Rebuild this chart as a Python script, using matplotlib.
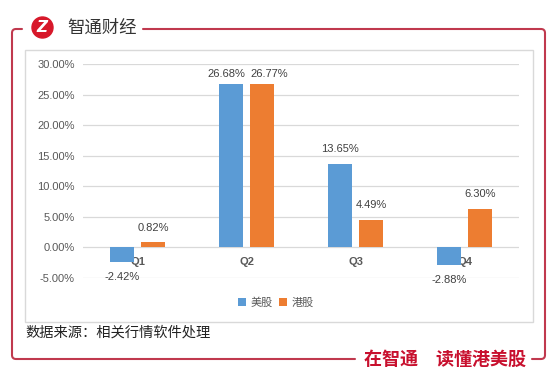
import numpy as np
import matplotlib
matplotlib.use("Agg")
import matplotlib.pyplot as plt
from matplotlib.path import Path
from matplotlib.patches import PathPatch, Circle, Rectangle
from matplotlib.ticker import FuncFormatter

# 数据
quarters = ["Q1", "Q2", "Q3", "Q4"]
us_stocks = [-2.42, 26.68, 13.65, -2.88]   # 美股
hk_stocks = [0.82, 26.77, 4.49, 6.30]      # 港股
series_names = ["美股", "港股"]

BLUE = "#5b9bd5"
ORANGE = "#ed7d31"
GRID = "#d9d9d9"
TXT = "#595959"
FRAME = "#c0394e"
CJK = ["Noto Sans CJK SC", "DejaVu Sans"]

plt.rcParams["font.family"] = ["Liberation Sans", "Noto Sans CJK SC"]

W, H = 559, 382
fig = plt.figure(figsize=(W / 100, H / 100), dpi=100)
fig.patch.set_facecolor("white")

# 背景层：像素坐标
bg = fig.add_axes([0, 0, 1, 1], zorder=0)
bg.set_xlim(0, W)
bg.set_ylim(H, 0)
bg.axis("off")

bg.add_patch(Rectangle((25, 50), 508, 272, fill=False, edgecolor=GRID, lw=1))

M, L, C = Path.MOVETO, Path.LINETO, Path.CURVE3
left_part = Path([(22, 29), (16, 29), (12, 29), (12, 33), (12, 355), (12, 359), (16, 359), (355, 359)],
                 [M, L, C, C, L, C, C, L])
right_part = Path([(143, 29), (541, 29), (545, 29), (545, 33), (545, 355), (545, 359), (541, 359), (532, 359)],
                  [M, L, C, C, L, C, C, L])
for p in (left_part, right_part):
    bg.add_patch(PathPatch(p, fill=False, edgecolor=FRAME, lw=1.5, capstyle="round"))

bg.add_patch(Circle((42.5, 27.5), 10.5, color="#d7182a"))
bg.text(42, 27.5, "Z", color="white", fontsize=11, fontweight="bold", style="italic",
        ha="center", va="center", family="DejaVu Sans")
bg.text(67, 28, "智通财经", fontsize=12.5, color="#333333", ha="left", va="center", family=CJK)
bg.text(364, 359, "在智通\u3000读懂港美股", fontsize=13, color="#c8102e", fontweight="bold",
        ha="left", va="center", family=CJK)
bg.text(25, 333, "数据来源：相关行情软件处理", fontsize=10.3, color="#222222",
        ha="left", va="center", family=CJK)

# 主图
ax = fig.add_axes([83 / W, 1 - 278 / H, (519 - 83) / W, (278 - 64) / H], zorder=1)
ax.patch.set_alpha(0)

x = np.arange(len(quarters))
width = 0.22
off = 0.142
b1 = ax.bar(x - off, us_stocks, width, color=BLUE, label=series_names[0], zorder=2)
b2 = ax.bar(x + off, hk_stocks, width, color=ORANGE, label=series_names[1], zorder=2)

ax.set_xlim(-0.5, len(quarters) - 0.5)
ax.set_ylim(-5, 30)
ax.set_yticks(np.arange(-5, 31, 5))
ax.yaxis.set_major_formatter(FuncFormatter(lambda v, _: f"{v:.2f}%"))
ax.grid(axis="y", color=GRID, lw=0.9, zorder=0)
ax.set_axisbelow(True)
for s in ax.spines.values():
    s.set_visible(False)
ax.spines["bottom"].set_position(("data", 0))
ax.set_xticks(x)
ax.set_xticklabels(quarters, fontweight="bold")
ax.tick_params(axis="both", length=0, colors=TXT, labelsize=8)
ax.tick_params(axis="x", pad=7)
ax.tick_params(axis="y", pad=6)

# 数据标签 (Q2 两个标签靠得太近，稍微错开)
dx = {(1, 0): -3, (1, 1): 5}
for j, (bars, vals) in enumerate([(b1, us_stocks), (b2, hk_stocks)]):
    for i, (bar, v) in enumerate(zip(bars, vals)):
        cx = bar.get_x() + bar.get_width() / 2
        dy = 7 if v >= 0 else -7
        if i == 1:
            dy = 3.5
        ax.annotate(f"{v:.2f}%", (cx, v), xytext=(dx.get((i, j), 0), dy),
                    textcoords="offset points", ha="center",
                    va="bottom" if v >= 0 else "top", fontsize=8, color="#404040")

leg = fig.legend(loc="center", bbox_to_anchor=(276 / W, 1 - 303 / H), ncol=2, frameon=False,
                 handlelength=0.7, handleheight=0.7, handletextpad=0.4,
                 columnspacing=0.6, prop={"family": CJK, "size": 8})
for t in leg.get_texts():
    t.set_color(TXT)

fig.savefig("out.png", dpi=100, facecolor="white")
